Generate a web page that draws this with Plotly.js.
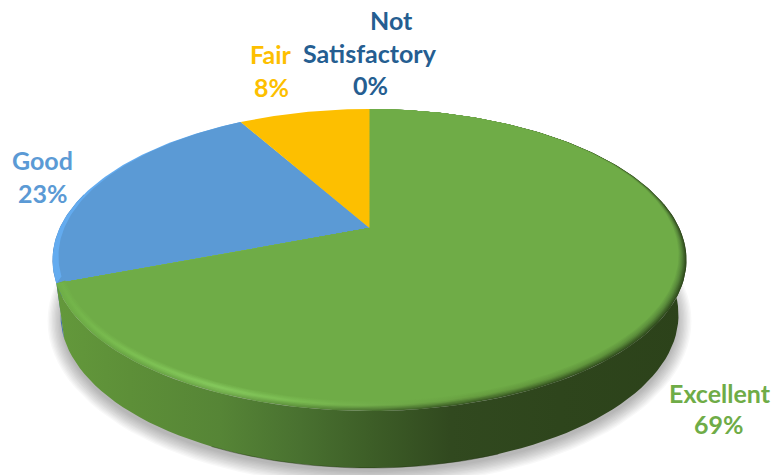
<!DOCTYPE html>
<html><head><meta charset="utf-8">
<script src="https://cdn.plot.ly/plotly-3.0.0.min.js"></script>
<style>html,body{margin:0;padding:0;background:#fff}</style></head>
<body><div id="c" style="width:774px;height:475px"></div>
<script>
// Data (clockwise from 12 o'clock)
const categories = ['Excellent','Good','Fair','Not Satisfactory'];
const values = [69.2,22.6,8.2,0];
const colors = ['#6fac47','#5b9ad5','#fdbf00','#255e91'];

// View geometry
const CX=369.5, CY=260, RX=317, RY=151, APEX=228, LOWCY=315, LOWRX=309, LOWRY=153;
const K=-(CY-APEX)/RY, A=RX*Math.sqrt(1-K*K), C=CY-APEX;
const total=values.reduce((a,b)=>a+b,0);

function rim(deg,t){
  const th=deg*Math.PI/180,u=Math.sin(th),v=Math.cos(th),w=1-K*v;
  let x=A*u/w, y=(RY*v+C)/w;
  const a=0.033;
  x*=1-t*8/RX; y=y*(1-t*a)+t*a*RY;
  return [x,y];
}
const top_=(d,t)=>{const p=rim(d,t);return [CX+p[0],CY-p[1]];};
const low=d=>{const p=rim(d,0);return [CX+p[0]*LOWRX/RX,LOWCY-p[1]*LOWRY/RY];};
function range(a,b,n){const r=[];for(let i=0;i<=n;i++)r.push(a+(b-a)*i/n);return r;}

const traces=[];
function poly(pts,extra){
  traces.push(Object.assign({type:'scatter',mode:'lines',x:pts.map(p=>p[0]),y:pts.map(p=>p[1]),fill:'toself',line:{width:0},hoverinfo:'skip',showlegend:false},extra));
}
function hex(c){return [1,3,5].map(i=>parseInt(c.substr(i,2),16));}
function mix(a,b,f){const p=hex(a),q=hex(b);return '#'+p.map((v,i)=>Math.round(v+(q[i]-v)*f).toString(16).padStart(2,'0')).join('');}

// Soft shadow under the disc
range(14,0,10).forEach(e=>{
  const pts=range(0,360,120).map(d=>{const th=d*Math.PI/180;return [CX+Math.sin(th)*(LOWRX+e-1),LOWCY+6-Math.cos(th)*(LOWRY+e-2)];});
  poly(pts,{fillcolor:'rgba(0,0,0,0.028)'});
});

// Slice angular spans
const spans=[];let acc=0;
values.forEach(v=>{const s=acc/total*360;acc+=v;spans.push([s,acc/total*360]);});

// Side walls
const grad=[[60,'#63983b'],[130,'#5d8f38'],[220,'#568536'],[300,'#497130'],[370,'#3d5e27'],[450,'#31491f'],[560,'#2e451c'],[690,'#2c421a']];
const G0=grad[0][0],G1=grad[grad.length-1][0];
const sideScale=grad.map(g=>[(g[0]-G0)/(G1-G0),g[1]]);
function wall(a,b,extra){
  const ds=range(a,b,80);
  poly(ds.map(d=>top_(d,0)).concat(ds.slice().reverse().map(low)),extra);
}
wall(spans[1][0],spans[1][0]+35,{fillcolor:'#3f72ad'});
wall(80,spans[0][1],{fillgradient:{type:'horizontal',start:G0,stop:G1,colorscale:sideScale}});
// Dark lower edge of the wall
const lowEdge=range(160,205,30).map(low);
traces.push({type:'scatter',mode:'lines',x:lowEdge.map(p=>p[0]),y:lowEdge.map(p=>p[1]),line:{color:'rgba(30,45,15,0.4)',width:1},hoverinfo:'skip',showlegend:false});

// Top face with rounded bevel
const xs=[60,130,220,300,370,470,600,690];
const outer=['#6fae47','#69a444','#6ea74a','#5c8f3b','#4a7230','#3a5a24','#33501f','#2f4a1c'];
const mid=['#72b349','#7cc052','#86ca5d','#7bbd52','#72ae4b','#679e40','#5e923b','#55853a'];
function face(i,t,extra){
  const a=spans[i][0],b=spans[i][1];
  const ds=range(a,b,Math.max(4,Math.ceil(b-a)));
  const mids=ds.slice(1,-1).map(d=>top_(d,t));
  poly([[CX,APEX],top_(a,0)].concat(mids,[top_(b,0),[CX,APEX]]),extra);
}
['#63abef','#5b9ad5'].forEach((c,n)=>face(1,n*0.75,{fillcolor:c}));
range(0,1,9).forEach(t=>{
  const scale=xs.map((x,j)=>{
    const c=t<0.5?mix(outer[j],mid[j],t/0.5):mix(mid[j],colors[0],(t-0.5)/0.5);
    return [(x-xs[0])/(xs[xs.length-1]-xs[0]),c];
  });
  face(0,t,{fillgradient:{type:'horizontal',start:xs[0],stop:xs[xs.length-1],colorscale:scale}});
});
face(2,0,{fillcolor:colors[2]});

// Data labels: one entry per text line
const pct=i=>Math.round(values[i])+'%';
const labelLines=[
 ['Not',3,391,20],['Satisfactory',3,370,53],[pct(3),3,370,85],
 ['Fair',2,271,54],[pct(2),2,271,87],
 ['Good',1,42,160],[pct(1),1,43,193],
 ['Excellent',0,720,393],[pct(0),0,719,424]
];
const annotations=labelLines.map(l=>({x:l[2],y:l[3],text:'<b>'+l[0]+'</b>',showarrow:false,xanchor:'center',yanchor:'middle',
  font:{family:'Lato, "Noto Sans", sans-serif',size:25,color:colors[l[1]]}}));

Plotly.newPlot('c',traces,{
  width:774,height:475,margin:{l:0,r:0,t:0,b:0},paper_bgcolor:'#fff',plot_bgcolor:'#fff',showlegend:false,
  xaxis:{range:[0,774],visible:false,fixedrange:true},
  yaxis:{range:[475,0],visible:false,fixedrange:true},
  annotations:annotations
},{displayModeBar:false,staticPlot:true});
</script></body></html>
